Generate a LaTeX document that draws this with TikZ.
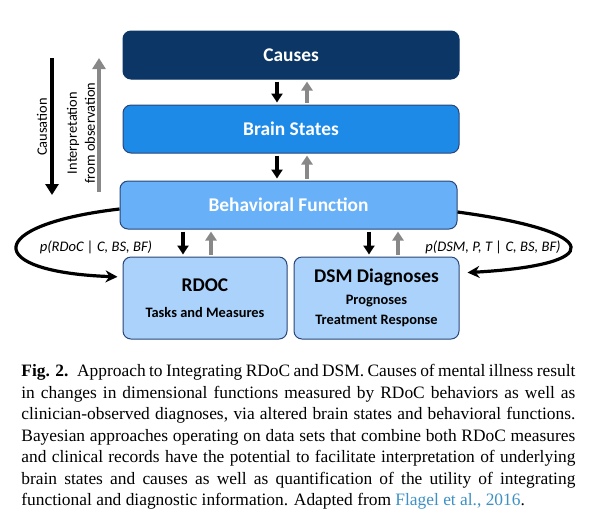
\documentclass[tikz,border=0pt]{standalone}
\usepackage{fontspec}
\setmainfont{Liberation Serif}
\newfontfamily\diag{Carlito}
\usepackage{xcolor}
\usetikzlibrary{positioning,arrows.meta}
\definecolor{causes}{RGB}{12,54,102}
\definecolor{brain}{RGB}{30,138,232}
\definecolor{behav}{RGB}{104,176,247}
\definecolor{task}{RGB}{170,210,250}
\definecolor{edge}{RGB}{40,70,120}
\definecolor{obs}{RGB}{136,136,136}
\definecolor{cite}{RGB}{60,144,196}
\newcommand{\minor}[1]{{\fontsize{7.2}{8}\selectfont #1}}

\begin{document}
\begin{tikzpicture}[x=0.5pt,y=-0.5pt,node distance=37pt,
  box/.style={draw=edge,line width=0.5pt,rounded corners=4pt,inner sep=0pt,minimum width=168pt,minimum height=24pt,text=white,font=\diag\bfseries\fontsize{9.7}{11}\selectfont},
  leaf/.style={box,fill=task,text=black,minimum width=82pt,minimum height=41pt,align=center},
  cause/.style={-{Triangle[width=5.5pt,length=4.5pt]},line width=1.6pt,shorten <=1pt,shorten >=1pt},
  infer/.style={cause,draw=obs},
  bigcause/.style={-{Triangle[width=6.5pt,length=5.5pt]},line width=2pt},
  biginfer/.style={bigcause,draw=obs},
  link/.style={-{Stealth[width=6pt,length=6pt]},line width=1.6pt},
  lab/.style={inner sep=0pt,font=\diag\fontsize{7.2}{9}\selectfont},
  plab/.style={inner sep=0pt,font=\diag\itshape\fontsize{7.3}{9}\selectfont},
  capt/.style={anchor=north west,inner sep=0pt,text width=277pt,align=justify,font=\fontsize{8.7}{10.75}\selectfont}]
\useasboundingbox (0,0) rectangle (589,527);

\node[box,fill=causes,draw=causes] (c) at (291,55) {Causes};
\node[box,fill=brain] (bs) [below of=c] {Brain States};
\node[box,fill=behav,minimum width=168.5pt] (bf) [below of=bs,yshift=-1pt,xshift=-1.25pt] {Behavioral Function};
\node[leaf] (rd) at (205,298) {RDOC\\[2pt]\minor{Tasks and Measures}};
\node[leaf,minimum width=82.5pt] (dsm) [right of=rd,node distance=85.75pt] {DSM Diagnoses\\[0pt]\minor{Prognoses}\\[-1pt]\minor{Treatment Response}};

\draw[cause] ([xshift=-7pt]c.south) -- ([xshift=-7pt]c.south |- bs.north);
\draw[infer] ([xshift=8pt]c.south |- bs.north) -- ([xshift=8pt]c.south);
\draw[cause] ([xshift=-7pt]bs.south) -- ([xshift=-7pt]bs.south |- bf.north);
\draw[infer] ([xshift=8pt]bs.south |- bf.north) -- ([xshift=8pt]bs.south);
\draw[cause] ([xshift=-11pt]rd.north |- bf.south) -- ([xshift=-11pt]rd.north);
\draw[infer] ([xshift=3pt]rd.north) -- ([xshift=3pt]rd.north |- bf.south);
\draw[cause] ([xshift=-3.75pt]dsm.north |- bf.south) -- ([xshift=-3.75pt]dsm.north);
\draw[infer] ([xshift=10.75pt]dsm.north) -- ([xshift=10.75pt]dsm.north |- bf.south);

\coordinate (ct) at (52,58);
\coordinate (cb) at (52,195);
\coordinate (ib) at (99,192);
\coordinate (it) at (99,58);
\draw[bigcause] (ct) -- (cb);
\draw[biginfer] (ib) -- (it);
\node[lab,rotate=90] (caus) at (42,127) {Causation};
\node[lab,rotate=90,align=center] (intp) at (81,133) {Interpretation\\from observation};

\draw[link,shorten >=2.5pt] ([yshift=-2pt]bf.west) .. controls (-17,225) and (-17,272) .. ([yshift=10.5pt]rd.west);
\draw[link,shorten >=4pt] ([yshift=-3.5pt]bf.east) .. controls (606,232) and (606,265) .. ([yshift=12.5pt]dsm.east);
\node[plab] (pl) at (96,247) {p(RDoC | C, BS, BF)};
\node[plab] (pr) at (493,247) {p(DSM, P, T | C, BS, BF)};

\node[capt] (cap) at (21,364) {\hyphenpenalty=10000\exhyphenpenalty=10000
\textbf{Fig. 2.}\enspace Approach to Integrating RDoC and DSM. Causes of mental illness result\linebreak
in changes in dimensional functions measured by RDoC behaviors as well as\linebreak
clinician-observed diagnoses, via altered brain states and behavioral functions.\linebreak
Bayesian approaches operating on data sets that combine both RDoC measures\linebreak
and clinical records have the potential to facilitate interpretation of underlying\linebreak
brain states and causes as well as quantification of the utility of integrating\linebreak
functional and diagnostic information. Adapted from \textcolor{cite}{Flagel et al., 2016}.};
\end{tikzpicture}
\end{document}
